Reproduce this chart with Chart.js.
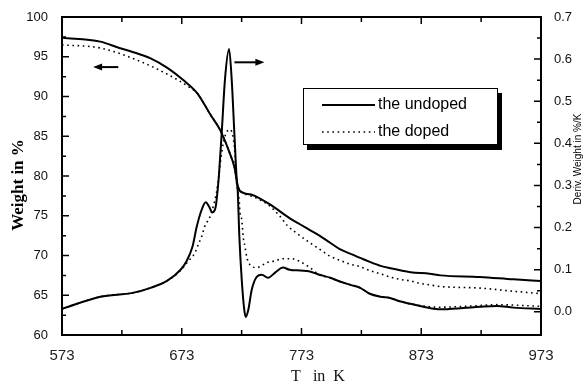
<!DOCTYPE html>
<html>
<head>
<meta charset="utf-8">
<script src="https://cdn.jsdelivr.net/npm/chart.js@4.4.0/dist/chart.umd.min.js"></script>
<style>
  html, body { margin: 0; padding: 0; background: #fff; }
  #wrap { width: 585px; height: 387px; }
</style>
</head>
<body>
<div id="wrap"><canvas id="tgaChart" width="585" height="387"></canvas></div>
<script>
// axis ticks
const tempTicks = [573, 673, 773, 873, 973];
const weightTicks = [60, 65, 70, 75, 80, 85, 90, 95, 100];
const derivTicks = [0, 0.1, 0.2, 0.3, 0.4, 0.5, 0.6, 0.7];

// weight in %, undoped (left axis)
const undopedWeightT = [573, 605, 621, 632, 647, 661, 674, 686, 697, 705, 713, 717, 720, 724, 730, 734, 738, 747, 763, 772, 780, 788, 797, 805, 814, 822, 830, 839, 847, 864, 880, 889, 922, 950, 973];
const undopedWeight = [97.4, 96.9, 96.1, 95.6, 94.8, 93.6, 92.1, 90.4, 87.7, 85.8, 82.9, 81.1, 78.6, 77.9, 77.7, 77.5, 77.2, 76.4, 74.7, 73.9, 73.2, 72.5, 71.6, 70.8, 70.2, 69.7, 69.2, 68.7, 68.4, 67.9, 67.7, 67.5, 67.3, 67.0, 66.8];

// weight in %, doped (left axis)
const dopedWeightT = [573, 605, 632, 661, 680, 686, 697, 705, 713, 717, 720, 724, 729, 737, 745, 754, 761, 769, 780, 788, 797, 805, 814, 822, 830, 839, 847, 855, 864, 872, 880, 889, 922, 950, 973];
const dopedWeight = [96.5, 96.1, 94.8, 92.8, 91.1, 90.4, 87.7, 85.8, 82.9, 81.1, 78.7, 77.9, 77.6, 77.1, 76.4, 75.1, 73.8, 72.8, 71.6, 70.8, 69.9, 69.4, 68.9, 68.6, 68.1, 67.7, 67.3, 67.0, 66.8, 66.5, 66.3, 66.1, 65.9, 65.5, 65.2];

// deriv. weight in %/K, undoped (right axis)
const undopedDerivT = [573, 605, 632, 647, 661, 672, 677, 682, 685.5, 689.7, 693, 695.8, 698.5, 701.4, 703, 704.1, 706.4, 709.1, 712.5, 714.7, 716.9, 718.9, 719.7, 721.1, 723.1, 725.2, 726.4, 728.6, 731.4, 735.6, 739.8, 745, 751.7, 757.5, 763, 772, 780, 788, 797, 805, 814, 822, 830, 839, 847, 855, 864, 872, 880, 889, 908, 922, 936, 950, 973];
const undopedDeriv = [0.007, 0.036, 0.045, 0.057, 0.074, 0.100, 0.120, 0.155, 0.202, 0.243, 0.260, 0.250, 0.236, 0.250, 0.290, 0.326, 0.426, 0.552, 0.624, 0.552, 0.426, 0.314, 0.290, 0.179, 0.076, 0.005, -0.012, 0.005, 0.052, 0.083, 0.088, 0.081, 0.095, 0.105, 0.100, 0.098, 0.096, 0.088, 0.081, 0.072, 0.064, 0.057, 0.043, 0.036, 0.033, 0.025, 0.019, 0.014, 0.009, 0.006, 0.009, 0.012, 0.014, 0.010, 0.007];

// deriv. weight in %/K, doped (right axis)
const dopedDerivT = [573, 605, 632, 647, 661, 672, 678, 684, 686.8, 689.7, 692.1, 696.6, 699.3, 702.2, 704.1, 706.4, 709.1, 713.3, 716.1, 717.5, 718, 721.1, 721.6, 723.1, 724.4, 725.8, 727.2, 729.9, 735.6, 744.2, 750.9, 757.5, 765, 772, 780, 788, 797, 805, 814, 822, 830, 839, 847, 855, 864, 872, 880, 889, 908, 922, 936, 950, 973];
const dopedDeriv = [0.007, 0.036, 0.045, 0.057, 0.074, 0.098, 0.119, 0.140, 0.160, 0.179, 0.202, 0.226, 0.250, 0.286, 0.326, 0.379, 0.417, 0.433, 0.410, 0.369, 0.333, 0.260, 0.236, 0.219, 0.176, 0.155, 0.131, 0.112, 0.105, 0.117, 0.121, 0.126, 0.126, 0.119, 0.105, 0.088, 0.081, 0.072, 0.064, 0.057, 0.043, 0.036, 0.033, 0.025, 0.019, 0.015, 0.012, 0.011, 0.013, 0.015, 0.017, 0.016, 0.013];

const sansFont = "'Liberation Sans', Arial, sans-serif";
const serifFont = "'Liberation Serif', 'Times New Roman', serif";

function toPoints(xs, ys) {
    return xs.map((x, i) => ({ x: x, y: ys[i] }));
}

function midpoints(vals) {
    const out = [];
    for (let i = 0; i < vals.length - 1; i++) out.push((vals[i] + vals[i + 1]) / 2);
    return out;
}

// frame with inward ticks, axis titles, arrows and the boxed legend
const decorPlugin = {
    id: 'decor',
    afterDraw(chart) {
        const ctx = chart.ctx;
        const ca = chart.chartArea;
        const sx = chart.scales.x, sy = chart.scales.y, sy1 = chart.scales.y1;
        ctx.save();
        ctx.strokeStyle = '#000';
        ctx.lineWidth = 2;
        ctx.strokeRect(ca.left, ca.top, ca.right - ca.left, ca.bottom - ca.top);

        ctx.lineWidth = 1.5;
        ctx.beginPath();
        const xMajor = tempTicks, xMinor = midpoints(tempTicks);
        xMajor.concat(xMinor).forEach((v, i) => {
            const len = i < xMajor.length ? 7 : 5;
            const px = sx.getPixelForValue(v);
            ctx.moveTo(px, ca.bottom); ctx.lineTo(px, ca.bottom - len);
            ctx.moveTo(px, ca.top); ctx.lineTo(px, ca.top + len);
        });
        const yMajor = weightTicks, yMinor = midpoints(weightTicks);
        yMajor.concat(yMinor).forEach((v, i) => {
            const len = i < yMajor.length ? 7 : 4;
            const py = sy.getPixelForValue(v);
            ctx.moveTo(ca.left, py); ctx.lineTo(ca.left + len, py);
        });
        const rMajor = derivTicks, rMinor = midpoints(derivTicks);
        rMajor.concat(rMinor).forEach((v, i) => {
            const len = i < rMajor.length ? 7 : 4;
            const py = sy1.getPixelForValue(v);
            ctx.moveTo(ca.right, py); ctx.lineTo(ca.right - len, py);
        });
        ctx.stroke();

        // axis titles
        ctx.fillStyle = '#000';
        ctx.textAlign = 'center';
        ctx.textBaseline = 'middle';
        ctx.save();
        ctx.translate(19, (ca.top + ca.bottom) / 2 + 9);
        ctx.rotate(-Math.PI / 2);
        ctx.font = 'bold 17px ' + serifFont;
        ctx.fillText('Weight in %', 0, 0);
        ctx.restore();
        ctx.save();
        ctx.translate(578, (ca.top + ca.bottom) / 2 - 17);
        ctx.rotate(-Math.PI / 2);
        ctx.font = '10px ' + sansFont;
        ctx.fillText('Deriv. Weight in %/K', 0, 0);
        ctx.restore();
        ctx.font = '16px ' + serifFont;
        ctx.fillStyle = '#111';
        ctx.fillText('T   in  K', ca.left + 256, 377);

        // arrows showing which axis each curve pair belongs to
        ctx.fillStyle = '#000';
        const arrow = (t1, t2, w) => {
            const x1 = sx.getPixelForValue(t1), x2 = sx.getPixelForValue(t2);
            const y = sy.getPixelForValue(w);
            const dir = Math.sign(x2 - x1);
            ctx.lineWidth = 2;
            ctx.beginPath();
            ctx.moveTo(x1, y); ctx.lineTo(x2 - dir * 6, y);
            ctx.stroke();
            ctx.beginPath();
            ctx.moveTo(x2, y);
            ctx.lineTo(x2 - dir * 9, y - 3.5);
            ctx.lineTo(x2 - dir * 9, y + 3.5);
            ctx.closePath();
            ctx.fill();
        };
        arrow(620, 599, 93.7);
        arrow(717, 742, 94.3);

        // legend box with shadow
        const lx = ca.left + 241, ly = ca.top + 71, lw = 195, lh = 57;
        ctx.fillStyle = '#000';
        ctx.fillRect(lx + 4, ly + 5, lw, lh);
        ctx.fillStyle = '#fff';
        ctx.fillRect(lx, ly, lw, lh);
        ctx.lineWidth = 1;
        ctx.strokeStyle = '#000';
        ctx.strokeRect(lx + 0.5, ly + 0.5, lw - 1, lh - 1);
        ctx.font = '16px ' + sansFont;
        ctx.textAlign = 'left';
        ctx.fillStyle = '#000';
        chart.data.datasets.slice(0, 2).forEach((ds, i) => {
            const y = ly + 17 + i * 27;
            ctx.save();
            ctx.lineWidth = ds.borderWidth;
            ctx.setLineDash(ds.borderDash || []);
            ctx.beginPath();
            ctx.moveTo(lx + 19, y); ctx.lineTo(lx + 72, y);
            ctx.stroke();
            ctx.restore();
            ctx.fillText(ds.label, lx + 75, y);
        });
        ctx.restore();
    }
};

const solidStyle = { borderColor: '#000', borderWidth: 2, borderDash: [] };
const dottedStyle = { borderColor: '#000', borderWidth: 1.6, borderDash: [1.6, 3.6] };

new Chart(document.getElementById('tgaChart'), {
    type: 'line',
    data: {
        datasets: [
            { label: 'the undoped', data: toPoints(undopedWeightT, undopedWeight), yAxisID: 'y', ...solidStyle },
            { label: 'the doped', data: toPoints(dopedWeightT, dopedWeight), yAxisID: 'y', ...dottedStyle },
            { label: 'the undoped', data: toPoints(undopedDerivT, undopedDeriv), yAxisID: 'y1', ...solidStyle },
            { label: 'the doped', data: toPoints(dopedDerivT, dopedDeriv), yAxisID: 'y1', ...dottedStyle }
        ]
    },
    options: {
        responsive: false,
        animation: false,
        layout: { padding: { top: 17, left: 0, right: 0, bottom: 0 } },
        elements: {
            point: { radius: 0 },
            line: { cubicInterpolationMode: 'monotone', fill: false }
        },
        plugins: {
            legend: { display: false },
            tooltip: { enabled: false }
        },
        scales: {
            x: {
                type: 'linear',
                min: 573,
                max: 973,
                grid: { display: false },
                border: { display: false },
                afterBuildTicks: s => { s.ticks = tempTicks.map(v => ({ value: v })); },
                afterFit: s => { s.height = 52; },
                ticks: { font: { family: sansFont, size: 15 }, color: '#222', padding: 4, autoSkip: false, maxRotation: 0 }
            },
            y: {
                position: 'left',
                min: 60,
                max: 100,
                grid: { display: false },
                border: { display: false },
                afterBuildTicks: s => { s.ticks = weightTicks.map(v => ({ value: v })); },
                afterFit: s => { s.width = 62; },
                ticks: { font: { family: sansFont, size: 13 }, color: '#111', padding: 6, autoSkip: false }
            },
            y1: {
                position: 'right',
                min: -0.055,
                max: 0.7,
                grid: { display: false },
                border: { display: false },
                afterBuildTicks: s => { s.ticks = derivTicks.map(v => ({ value: v })); },
                afterFit: s => { s.width = 44; },
                ticks: { font: { family: sansFont, size: 13 }, color: '#111', padding: 5, autoSkip: false, callback: v => Number(v).toFixed(1) }
            }
        }
    },
    plugins: [decorPlugin]
});
</script>
</body>
</html>
